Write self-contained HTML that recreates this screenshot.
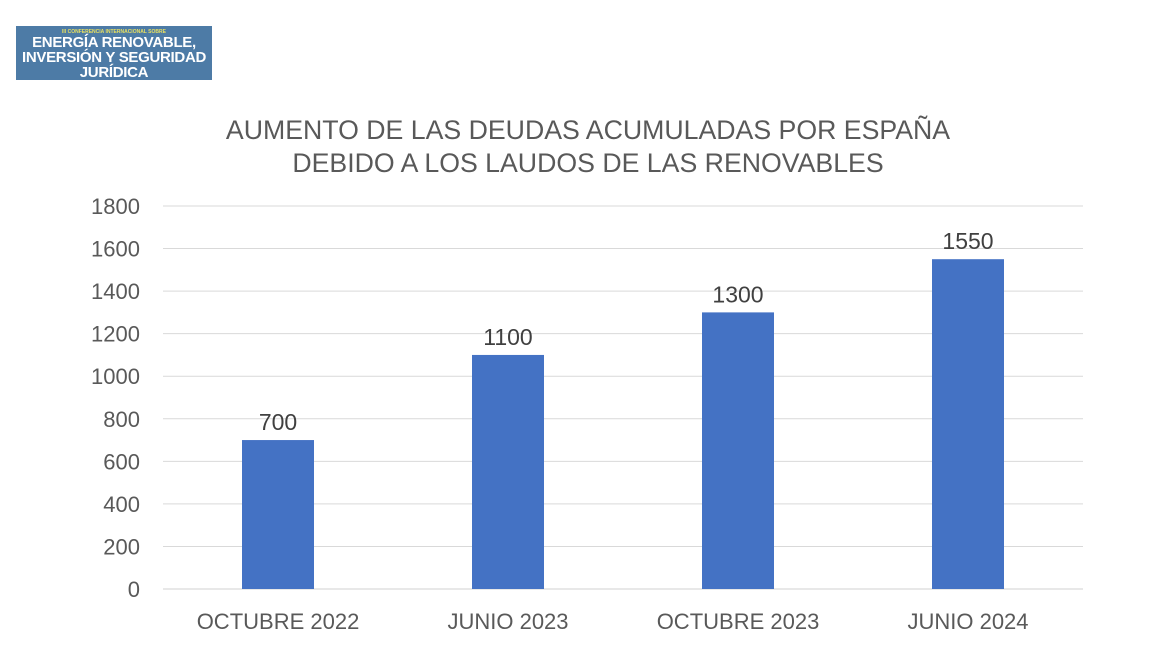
<!DOCTYPE html>
<html><head><meta charset="utf-8"><style>
body{margin:0;width:1149px;height:655px;background:#fff;overflow:hidden;font-family:"Liberation Sans",sans-serif;position:relative}
#logo{position:absolute;left:16px;top:26px;width:196px;height:54px;background:#4d7ba6;color:#fff;text-align:center;font-weight:bold}
</style></head><body>
<div id="logo">
<div style="font-size:5px;color:#e8e060;padding-top:3px">III CONFERENCIA INTERNACIONAL SOBRE</div>
<div style="font-size:15px;line-height:15px;letter-spacing:-0.3px">ENERGÍA RENOVABLE,<br>INVERSIÓN Y SEGURIDAD<br>JURÍDICA</div>
</div>
<svg id="chart" width="1149" height="655" style="position:absolute;left:0;top:0">
<text x="588" y="139" text-anchor="middle" font-size="26.7" fill="#595959">AUMENTO DE LAS DEUDAS ACUMULADAS POR ESPAÑA</text>
<text x="588" y="172" text-anchor="middle" font-size="26.7" fill="#595959">DEBIDO A LOS LAUDOS DE LAS RENOVABLES</text>
<g id="g"></g>
</svg>
<script>
const categories=["OCTUBRE 2022","JUNIO 2023","OCTUBRE 2023","JUNIO 2024"];
const values=[700,1100,1300,1550];
const ticks=[0,200,400,600,800,1000,1200,1400,1600,1800];
const g=document.getElementById('g');
const ns="http://www.w3.org/2000/svg";
const x0=163,x1=1083,y0=589,y1=206,ymax=1800;
const y=v=>y0-(v/ymax)*(y0-y1);
const band=(x1-x0)/categories.length;
const xc=i=>x0+band*(i+0.5);
function mk(t,a){const e=document.createElementNS(ns,t);for(const k in a)e.setAttribute(k,a[k]);g.appendChild(e);return e;}
ticks.forEach(t=>{
const l=mk('line',{x1:x0,x2:x1,y1:y(t),y2:y(t),stroke:t===0?'#d0d0d0':'#d9d9d9','stroke-width':1});


const tx=mk('text',{x:140,y:y(t)+8,'text-anchor':'end','font-size':22,fill:'#595959'});tx.textContent=t;


});
categories.forEach((c,i)=>{
const r=mk('rect',{x:xc(i)-36,y:y(values[i]),width:72,height:y0-y(values[i]),fill:'#4472c4'});


const v=mk('text',{x:xc(i),y:y(values[i])-10,'text-anchor':'middle','font-size':23,fill:'#404040'});v.textContent=values[i];


const t=mk('text',{x:xc(i),y:629,'text-anchor':'middle','font-size':22,fill:'#595959'});t.textContent=c;


});
</script>
</body></html>
